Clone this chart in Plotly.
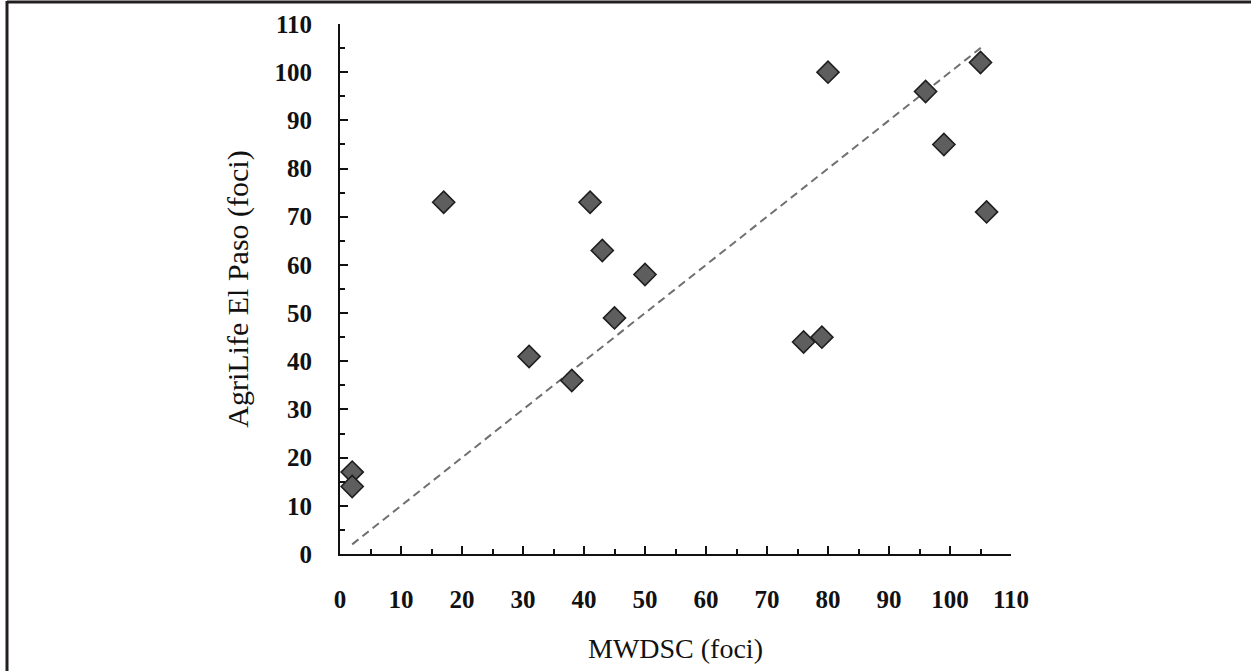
import plotly.graph_objects as go

# Data
mwdsc = [2, 2, 17, 31, 38, 41, 43, 45, 50, 76, 79, 80, 96, 99, 105, 106]
agrilife = [17, 14, 73, 41, 36, 73, 63, 49, 58, 44, 45, 100, 96, 85, 102, 71]
line_x = [2, 105.5]
line_y = [2, 105.5]
tick_vals = [0, 10, 20, 30, 40, 50, 60, 70, 80, 90, 100, 110]

W, H = 1251, 671
L, R, T, B = 340, 240, 24, 117
pw, ph = W - L - R, H - T - B

def px_x(p):
    return (p - L) / pw

def px_y(p):
    return (H - B - p) / ph

font_family = "Liberation Serif, Times New Roman, serif"

fig = go.Figure()
fig.add_trace(go.Scatter(
    x=line_x, y=line_y, mode="lines",
    line=dict(color="#707070", width=2, dash="8px,5px"),
    showlegend=False, hoverinfo="skip"))
fig.add_trace(go.Scatter(
    x=mwdsc, y=agrilife, mode="markers",
    marker=dict(symbol="diamond", size=17, color="#5e5e5e",
                line=dict(color="#1e1e1e", width=1.6)),
    showlegend=False))

axis_common = dict(
    range=[0, 110], tickvals=tick_vals, showgrid=False, zeroline=False,
    showline=True, linecolor="#111", linewidth=2,
    ticks="inside", ticklen=8, tickwidth=2, tickcolor="#111",
    minor=dict(dtick=5, ticks="inside", ticklen=5, tickwidth=2, tickcolor="#111"),
    tickfont=dict(family=font_family, size=25, color="#111", weight="bold"),
    fixedrange=True,
)

fig.update_xaxes(**axis_common, ticklabelstandoff=22,
                 title=dict(text="MWDSC (foci)", standoff=26,
                            font=dict(family=font_family, size=28, color="#111")))
fig.update_yaxes(**axis_common, ticklabelstandoff=21,
                 title=dict(text="AgriLife El Paso (foci)", standoff=17,
                            font=dict(family=font_family, size=30, color="#111")))

# frame border (top and left edges of the cropped figure)
fig.add_shape(type="line", xref="paper", yref="paper",
              x0=px_x(7), x1=px_x(W + 5), y0=px_y(2), y1=px_y(2),
              line=dict(color="#231f20", width=3))
fig.add_shape(type="line", xref="paper", yref="paper",
              x0=px_x(7), x1=px_x(7), y0=px_y(1), y1=px_y(H + 5),
              line=dict(color="#231f20", width=3))

fig.update_layout(
    width=W, height=H,
    margin=dict(l=L, r=R, t=T, b=B),
    plot_bgcolor="white", paper_bgcolor="white",
)

fig.write_html("out.html", config={"displayModeBar": False},
               post_script="document.body.style.margin='0';document.body.style.overflow='hidden';")
